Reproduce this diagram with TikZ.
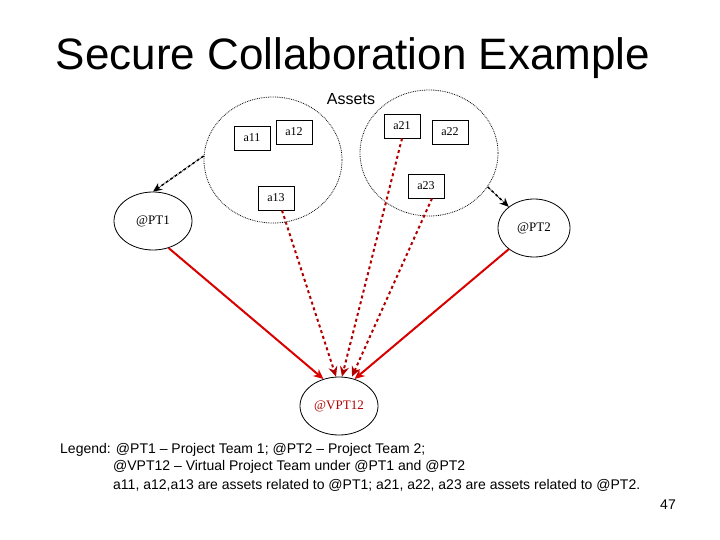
\documentclass[tikz,border=0pt]{standalone}
\usepackage{fontspec}
\setmainfont{Liberation Sans}
\newfontfamily\serifl{Liberation Serif}
\usetikzlibrary{arrows.meta,shapes.geometric}
\begin{document}
\begin{tikzpicture}[x=1pt,y=-1pt,
  asset/.style={draw,line width=0.8pt,minimum width=36pt,minimum height=24pt,inner sep=0pt,font=\serifl\fontsize{12}{12}\selectfont},
  team/.style={draw,ellipse,line width=0.8pt,minimum width=78pt,minimum height=58pt,inner sep=0pt,font=\serifl\fontsize{13}{13}\selectfont},
  grp/.style={draw,ellipse,densely dotted,line width=0.8pt,minimum width=138pt,minimum height=126pt,inner sep=0pt},
  bl/.style={densely dashdotted,line width=1.5pt,-{Stealth[length=9pt,width=8pt]}},
  rs/.style={red!85!black,line width=2pt,-{Stealth[length=10pt,width=9pt]}},
  rd/.style={red!70!black,dashed,line width=2pt,-{Stealth[length=10pt,width=9pt]}},
  leg/.style={anchor=west,inner sep=0pt,font=\fontsize{14}{14}\selectfont}]
\useasboundingbox (0,0) rectangle (720,540);
\node (title) at (353,58) {\fontsize{44}{44}\selectfont Secure Collaboration Example};
\node (assets) at (351,99) {\fontsize{16}{16}\selectfont Assets};
\node[grp] (g1) at (273,160) {};
\node[grp] (g2) at (429,153) {};
\node[asset] (a11) at (252,138) {a11};
\node[asset] (a12) at (294,132) {a12};
\node[asset] (a13) at (276,198) {a13};
\node[asset] (a21) at (402,126) {a21};
\node[asset] (a22) at (450,132) {a22};
\node[asset] (a23) at (426,186) {a23};
\node[team] (pt1) at (153,221) {@PT1};
\node[team,minimum width=72pt] (pt2) at (534,228) {@PT2};
\node[team,text=red!70!black] (vpt) at (339,406) {@VPT12};
\draw[bl] (g1.west) ++(0,-4) coordinate (c1) -- (pt1.north);
\draw[bl] (g2.-30) -- (pt2.140);
\draw[rs] (pt1.-60) -- (vpt.120);
\draw[rd] (a13.south) ++(6,0) coordinate (s13) -- ([xshift=-3pt]vpt.north);
\draw[rd] (a21.south) -- ([xshift=3pt]vpt.north);
\draw[rd] (a23.south) ++(6,0) coordinate (s23) -- ([xshift=13pt]vpt.north);
\draw[rs] (pt2.-140) -- (vpt.60);
\node[leg] (l1) at (60,450) {Legend: @PT1 -- Project Team 1; @PT2 -- Project Team 2;};
\node[leg] (l2) at (113,467) {@VPT12 -- Virtual Project Team under @PT1 and @PT2};
\node[leg] (l3) at (113,485) {a11, a12,a13 are assets related to @PT1; a21, a22, a23 are assets related to @PT2.};
\node (pg) at (668,505) {\fontsize{14}{14}\selectfont 47};
\end{tikzpicture}
\end{document}
